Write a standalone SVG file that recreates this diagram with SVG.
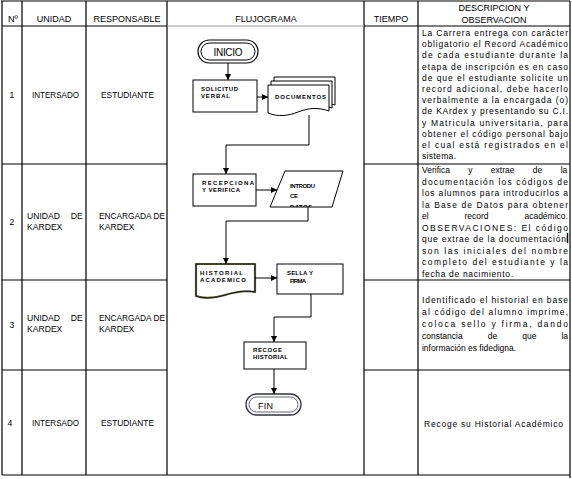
<svg xmlns="http://www.w3.org/2000/svg" width="572" height="479" viewBox="0 0 572 479">
<style>
.t{font-family:"Liberation Sans",Arial,sans-serif;font-size:8.6px;fill:#000}
.h{font-family:"Liberation Sans",Arial,sans-serif;font-size:9px;fill:#000}
.d{font-family:"Liberation Sans",Arial,sans-serif;font-size:8.5px;fill:#000}
.s{font-family:"Liberation Sans",Arial,sans-serif;font-size:6px;font-weight:bold;fill:#000}
.g{stroke:#000;stroke-width:1.2;fill:none}
.box{fill:#fff;stroke:#000;stroke-width:1}
.c{fill:none;stroke:#000;stroke-width:1}
</style>
<defs>
<marker id="ah" viewBox="0 0 6 6" refX="6" refY="3" markerWidth="6" markerHeight="6" orient="auto" markerUnits="userSpaceOnUse">
<path d="M0,0 L6,3 L0,6 Z" fill="#000"/>
</marker>
<clipPath id="pclip"><polygon points="285,171 343,171 332,207 270,207"/></clipPath>
</defs>
<rect width="572" height="479" fill="#fff"/>

<g id="table">
<path class="g" d="M1,1 H570 M2,1 V475 M22,1 V475 M86,1 V475 M167,1 V475 M364,1 V475 M418,1 V475 M570,1 V478 M2,475 H570"/>
<path class="g" d="M2,26 H167 M364,26 H570"/>
<path d="M167,26 H364" stroke="#999" stroke-width="1.2"/>
<path class="g" d="M2,164 H167 M364,164 H570 M2,280 H167 M364,280 H570 M2,370 H167 M364,370 H570"/>
</g>

<g id="header">
<text class="h" x="8" y="22">Nº</text>
<text class="h" x="54" y="22" text-anchor="middle">UNIDAD</text>
<text class="h" x="127" y="22" text-anchor="middle">RESPONSABLE</text>
<text class="h" x="266" y="22" text-anchor="middle">FLUJOGRAMA</text>
<text class="h" x="391" y="22" text-anchor="middle">TIEMPO</text>
<text class="h" x="494" y="11" text-anchor="middle">DESCRIPCION Y</text>
<text class="h" x="494" y="23" text-anchor="middle">OBSERVACION</text>
</g>

<g id="row1">
<text class="t" x="12" y="98" text-anchor="middle">1</text>
<text class="t" x="32" y="98" textLength="47" lengthAdjust="spacingAndGlyphs">INTERSADO</text>
<text class="t" x="101" y="98" textLength="53" lengthAdjust="spacingAndGlyphs">ESTUDIANTE</text>
<text class="d" x="422" y="36" textLength="146" lengthAdjust="spacing">La Carrera entrega con carácter</text>
<text class="d" x="422" y="47.2" textLength="146" lengthAdjust="spacing">obligatorio el Record Académico</text>
<text class="d" x="422" y="58.4" textLength="146" lengthAdjust="spacing">de cada estudiante durante la</text>
<text class="d" x="422" y="69.6" textLength="146" lengthAdjust="spacing">etapa de inscripción es en caso</text>
<text class="d" x="422" y="80.8" textLength="146" lengthAdjust="spacing">de que el estudiante solicite un</text>
<text class="d" x="422" y="92" textLength="146" lengthAdjust="spacing">record adicional, debe hacerlo</text>
<text class="d" x="422" y="103.2" textLength="146" lengthAdjust="spacing">verbalmente a la encargada (o)</text>
<text class="d" x="422" y="114.4" textLength="146" lengthAdjust="spacing">de KArdex y presentando su C.I.</text>
<text class="d" x="422" y="125.6" textLength="146" lengthAdjust="spacing">y Matricula universitaria, para</text>
<text class="d" x="422" y="136.8" textLength="146" lengthAdjust="spacing">obtener el código personal bajo</text>
<text class="d" x="422" y="148" textLength="146" lengthAdjust="spacing">el cual está registrados en el</text>
<text class="d" x="422" y="159.2" textLength="34" lengthAdjust="spacing">sistema.</text>
</g>

<g id="row2">
<text class="t" x="12" y="225" text-anchor="middle">2</text>
<text class="t" x="27" y="219" word-spacing="8.5">UNIDAD DE</text>
<text class="t" x="27" y="230">KARDEX</text>
<text class="t" x="99" y="219" textLength="66" lengthAdjust="spacingAndGlyphs">ENCARGADA DE</text>
<text class="t" x="99" y="230">KARDEX</text>
<text class="d" x="422" y="173" word-spacing="16">Verifica y extrae de la</text>
<text class="d" x="422" y="184.5" textLength="146" lengthAdjust="spacing">documentación los códigos de</text>
<text class="d" x="422" y="196" textLength="146" lengthAdjust="spacing">los alumnos para introducirlos a</text>
<text class="d" x="422" y="207.5" textLength="146" lengthAdjust="spacing">la Base de Datos para obtener</text>
<text class="d" x="422" y="219" word-spacing="33.5">el record académico.</text>
<text class="d" x="422" y="230.5" textLength="146" lengthAdjust="spacing">OBSERVACIONES: El código</text>
<text class="d" x="422" y="242" textLength="144" lengthAdjust="spacing">que extrae de la documentación</text>
<path d="M567.5,233 V243" stroke="#000" stroke-width="1.5"/>
<text class="d" x="422" y="253.5" textLength="146" lengthAdjust="spacing">son las iniciales del nombre</text>
<text class="d" x="422" y="265" textLength="146" lengthAdjust="spacing">completo del estudiante y la</text>
<text class="d" x="422" y="276.5" textLength="91" lengthAdjust="spacing">fecha de nacimiento.</text>
</g>

<g id="row3">
<text class="t" x="12" y="328" text-anchor="middle">3</text>
<text class="t" x="27" y="321" word-spacing="8.5">UNIDAD DE</text>
<text class="t" x="27" y="332">KARDEX</text>
<text class="t" x="99" y="321" textLength="66" lengthAdjust="spacingAndGlyphs">ENCARGADA DE</text>
<text class="t" x="99" y="332">KARDEX</text>
<text class="d" x="422" y="303" textLength="146" lengthAdjust="spacing">Identificado el historial en base</text>
<text class="d" x="422" y="315" textLength="146" lengthAdjust="spacing">al código del alumno imprime,</text>
<text class="d" x="422" y="327" textLength="146" lengthAdjust="spacing">coloca sello y firma, dando</text>
<text class="d" x="422" y="339" word-spacing="22.7">constancia de que la</text>
<text class="d" x="422" y="351" textLength="94" lengthAdjust="spacing">información es fidedigna.</text>
</g>

<g id="row4">
<text class="t" x="10" y="426" text-anchor="middle">4</text>
<text class="t" x="32" y="426" textLength="47" lengthAdjust="spacingAndGlyphs">INTERSADO</text>
<text class="t" x="101" y="426" textLength="53" lengthAdjust="spacingAndGlyphs">ESTUDIANTE</text>
<text class="d" x="424" y="427" textLength="139" lengthAdjust="spacing">Recoge su Historial Académico</text>
</g>

<g id="inicio">
<rect x="198" y="40" width="60" height="23" rx="11.5" fill="#fff" stroke="#000" stroke-width="1.2"/>
<rect x="201" y="43" width="54" height="17" rx="8.5" fill="none" stroke="#000" stroke-width="1"/>
<text x="228" y="55.5" text-anchor="middle" font-family="Liberation Sans, Arial, sans-serif" font-size="10" textLength="29" lengthAdjust="spacing">INICIO</text>
</g>

<g id="solicitud">
<rect class="box" x="193" y="80" width="64" height="32"/>
<text class="s" x="201" y="91" textLength="37" lengthAdjust="spacing">SOLICITUD</text>
<text class="s" x="201" y="98" textLength="29" lengthAdjust="spacing">VERBAL</text>
</g>

<g id="documentos">
<path class="box" d="M274,77 H335 V105 C325,102 315,103 305,107 C295,111 285,112 274,108 Z"/>
<path class="box" d="M271,81 H332 V108 C322,105 312,106 302,110 C292,114 282,115 271,111 Z"/>
<path class="box" d="M268,85 H329 V111 C318,107 308,108 298,112 C288,116 278,117 268,113 Z"/>
<text class="s" x="275" y="99" textLength="51" lengthAdjust="spacing">DOCUMENTOS</text>
</g>

<g id="recepciona">
<rect class="box" x="193" y="174" width="63" height="32"/>
<text class="s" x="202" y="185" textLength="52" lengthAdjust="spacing">RECEPCIONA</text>
<text class="s" x="202" y="192" textLength="38" lengthAdjust="spacing">Y VERIFICA</text>
</g>

<g id="introduce">
<polygon class="box" points="285,171 343,171 332,207 270,207"/>
<g clip-path="url(#pclip)">
<text class="s" x="290" y="188" textLength="25" lengthAdjust="spacing">INTRODU</text>
<text class="s" x="290" y="198" textLength="8" lengthAdjust="spacing">CE</text>
<text class="s" x="290" y="209" textLength="22" lengthAdjust="spacing">DATOS</text>
</g>
</g>

<g id="historial">
<path d="M196,264 H255 V292 C245,290 235,292 225,295 C215,298 205,299 196,296 Z" fill="#fff" stroke="#6b6b4a" stroke-width="2.2"/>
<path d="M196,264 H255 V292 C245,290 235,292 225,295 C215,298 205,299 196,296 Z" fill="none" stroke="#000" stroke-width="0.8"/>
<text class="s" x="200" y="275" textLength="43" lengthAdjust="spacing">HISTORIAL</text>
<text class="s" x="200" y="282" textLength="46" lengthAdjust="spacing">ACADEMICO</text>
</g>

<g id="sella">
<rect class="box" x="277" y="264" width="66" height="30"/>
<text class="s" x="287" y="275" textLength="26" lengthAdjust="spacing">SELLA Y</text>
<text class="s" x="290" y="283" textLength="16" lengthAdjust="spacing">FIRMA</text>
</g>

<g id="recoge">
<rect class="box" x="244" y="342" width="62" height="27"/>
<text class="s" x="253" y="352" textLength="29" lengthAdjust="spacing">RECOGE</text>
<text class="s" x="253" y="359" textLength="35" lengthAdjust="spacing">HISTORIAL</text>
</g>

<g id="fin">
<rect x="246" y="394" width="55" height="21" rx="10.5" fill="#fff" stroke="#333344" stroke-width="1.3"/>
<rect x="249" y="397" width="49" height="15" rx="7.5" fill="none" stroke="#555566" stroke-width="0.9"/>
<text x="258" y="409" font-family="Liberation Sans, Arial, sans-serif" font-size="9" textLength="15" lengthAdjust="spacing">FIN</text>
</g>

<g id="connectors">
<path class="c" d="M228,63 V80" marker-end="url(#ah)"/>
<path class="c" d="M257,97 H268" marker-end="url(#ah)"/>
<path class="c" d="M309,115 V145 H226 V174" marker-end="url(#ah)"/>
<path class="c" d="M256,190 H277" marker-end="url(#ah)"/>
<path class="c" d="M308,207 V221 H226 V264" marker-end="url(#ah)"/>
<path class="c" d="M255,278 H277" marker-end="url(#ah)"/>
<path class="c" d="M311,294 V317 H274 V342" marker-end="url(#ah)"/>
<path class="c" d="M274,369 V394" marker-end="url(#ah)"/>
</g>
</svg>
